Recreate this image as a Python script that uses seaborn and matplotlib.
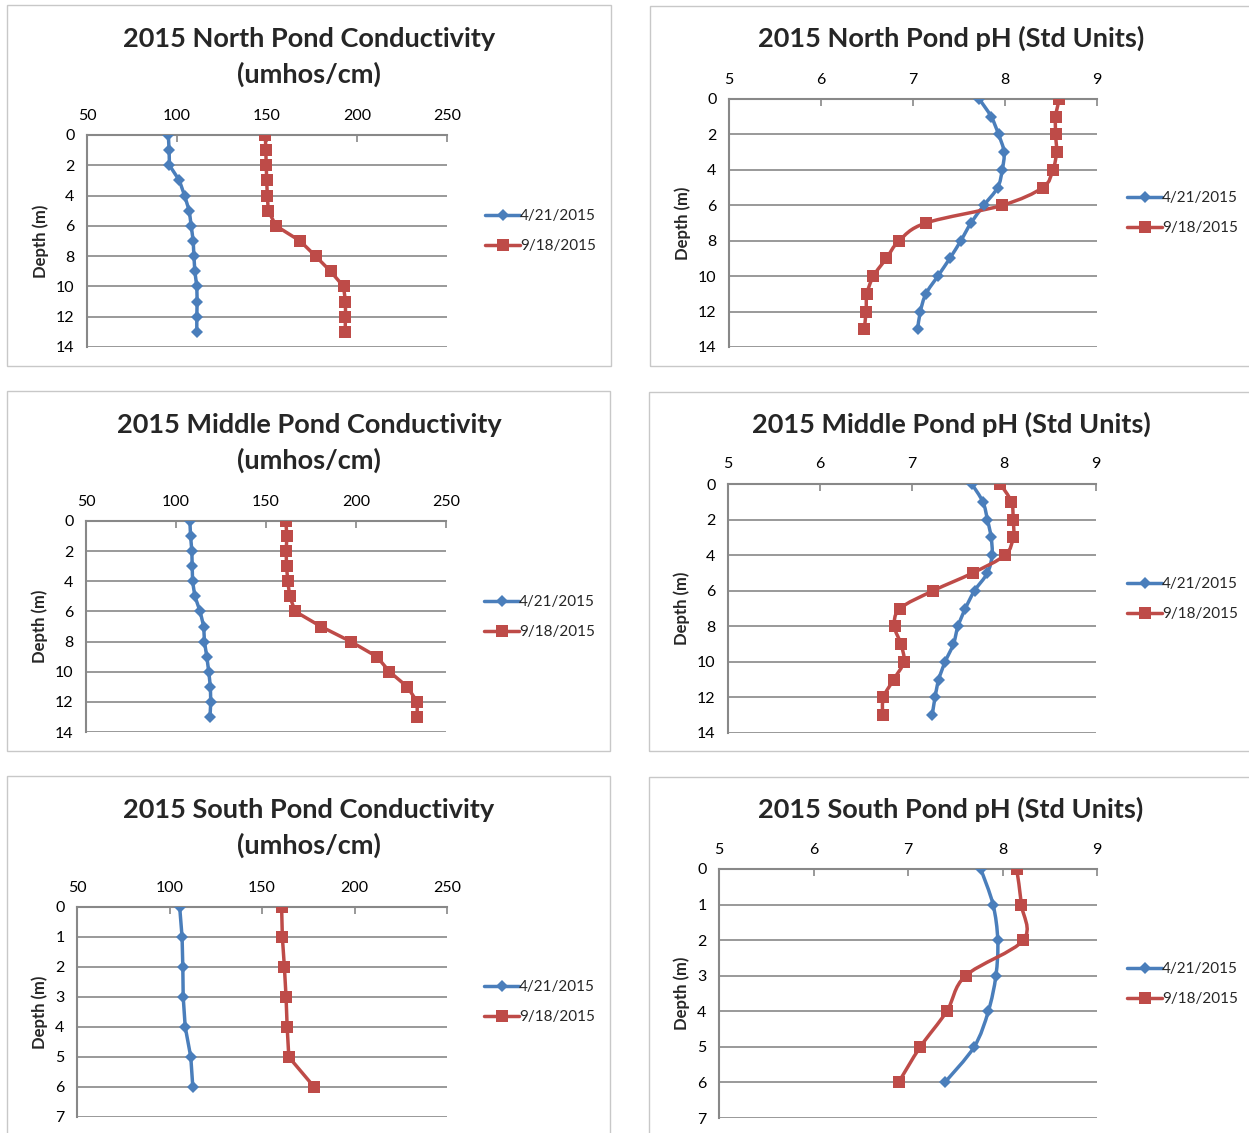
import matplotlib
matplotlib.use("Agg")
import matplotlib.pyplot as plt
from matplotlib.path import Path
from matplotlib.patches import PathPatch, Rectangle
from matplotlib.lines import Line2D
import seaborn as sns

# ---- data -------------------------------------------------------------
dates = ["4/21/2015", "9/18/2015"]
depth_deep = list(range(14))   # North and Middle pond profiles, m
depth_south = list(range(7))   # South pond profile, m

north_cond_apr = [95.2, 95.6, 95.8, 101.3, 104.2, 106.8, 107.9, 109.0, 109.4, 109.9, 111.0, 111.2, 111.0, 111.0]
north_cond_sep = [149.1, 149.3, 149.6, 149.8, 150.2, 150.7, 155.0, 168.4, 177.0, 185.3, 192.5, 193.6, 193.6, 193.4]
north_ph_apr = [7.72, 7.85, 7.93, 7.99, 7.97, 7.92, 7.77, 7.63, 7.52, 7.40, 7.27, 7.14, 7.08, 7.05]
north_ph_sep = [8.59, 8.55, 8.55, 8.56, 8.52, 8.41, 7.97, 7.14, 6.85, 6.71, 6.57, 6.50, 6.49, 6.47]

middle_cond_apr = [107.7, 108.1, 108.8, 109.0, 109.2, 110.5, 113.4, 115.4, 115.8, 117.1, 118.2, 119.1, 119.3, 118.9]
middle_cond_sep = [161.0, 161.6, 161.2, 161.4, 162.1, 163.2, 166.2, 180.5, 197.1, 211.6, 218.6, 228.5, 234.0, 234.0]
middle_ph_apr = [7.65, 7.77, 7.82, 7.86, 7.87, 7.82, 7.68, 7.58, 7.50, 7.45, 7.36, 7.29, 7.25, 7.22]
middle_ph_sep = [7.96, 8.08, 8.10, 8.10, 8.01, 7.66, 7.23, 6.87, 6.81, 6.88, 6.91, 6.80, 6.69, 6.68]

south_cond_apr = [105.5, 106.8, 107.2, 107.4, 108.5, 111.5, 112.6]
south_cond_sep = [160.6, 161.0, 162.1, 163.0, 163.6, 164.5, 178.2]
south_ph_apr = [7.77, 7.90, 7.95, 7.93, 7.85, 7.70, 7.39]
south_ph_sep = [8.15, 8.20, 8.22, 7.61, 7.41, 7.13, 6.90]

cond_ticks = [50, 100, 150, 200, 250]
ph_ticks = [5, 6, 7, 8, 9]
deep_ticks = [0, 2, 4, 6, 8, 10, 12, 14]
south_ticks = [0, 1, 2, 3, 4, 5, 6, 7]

# ---- style ------------------------------------------------------------
sns.set_style("white")
plt.rcParams["font.family"] = ["Lato", "DejaVu Sans"]

W, H = 1249, 1133
BLUE = "#4A7EBB"
RED = "#BE4B48"
GRID = "#888888"
BORDER = "#C8C8C8"

fig = plt.figure(figsize=(W / 100, H / 100), dpi=100)


def fx(px):
    return px / W


def fy(py):
    return 1 - py / H


def smooth_path(xs, ys):
    """Bezier path through the points, Excel-style smoothed line."""
    pts = list(zip(xs, ys))
    n = len(pts)
    verts = [pts[0]]
    codes = [Path.MOVETO]
    for i in range(n - 1):
        p0 = pts[i - 1] if i > 0 else pts[i]
        p1 = pts[i]
        p2 = pts[i + 1]
        p3 = pts[i + 2] if i + 2 < n else pts[i + 1]
        c1 = (p1[0] + (p2[0] - p0[0]) / 6, p1[1] + (p2[1] - p0[1]) / 6)
        c2 = (p2[0] - (p3[0] - p1[0]) / 6, p2[1] - (p3[1] - p1[1]) / 6)
        verts += [c1, c2, p2]
        codes += [Path.CURVE4] * 3
    return Path(verts, codes)


panels = [
    dict(title="2015 North Pond Conductivity\n(umhos/cm)", box=(7, 5, 611, 366), area=(87, 135, 447, 347),
         tcx=309, tcy=57, series=(north_cond_apr, north_cond_sep), depth=depth_deep, xticks=cond_ticks,
         yticks=deep_ticks, smooth=False, leg=(485, 231)),
    dict(title="2015 North Pond pH (Std Units)", box=(650, 6, 1260, 366), area=(729, 99, 1097, 347),
         tcx=951, tcy=38, series=(north_ph_apr, north_ph_sep), depth=depth_deep, xticks=ph_ticks,
         yticks=deep_ticks, smooth=True, leg=(1127, 213)),
    dict(title="2015 Middle Pond Conductivity\n(umhos/cm)", box=(7, 391, 610, 751), area=(86, 521, 446, 732),
         tcx=309, tcy=443, series=(middle_cond_apr, middle_cond_sep), depth=depth_deep, xticks=cond_ticks,
         yticks=deep_ticks, smooth=False, leg=(484, 617)),
    dict(title="2015 Middle Pond pH (Std Units)", box=(649, 392, 1260, 751), area=(728, 484, 1096, 733),
         tcx=951, tcy=424, series=(middle_ph_apr, middle_ph_sep), depth=depth_deep, xticks=ph_ticks,
         yticks=deep_ticks, smooth=True, leg=(1127, 599)),
    dict(title="2015 South Pond Conductivity\n(umhos/cm)", box=(7, 776, 610, 1145), area=(77, 907, 447, 1117),
         tcx=309, tcy=828, series=(south_cond_apr, south_cond_sep), depth=depth_south, xticks=cond_ticks,
         yticks=south_ticks, smooth=False, leg=(484, 1002)),
    dict(title="2015 South Pond pH (Std Units)", box=(649, 777, 1260, 1145), area=(719, 869, 1097, 1118),
         tcx=951, tcy=809, series=(south_ph_apr, south_ph_sep), depth=depth_south, xticks=ph_ticks,
         yticks=south_ticks, smooth=True, leg=(1127, 984)),
]

styles = [
    dict(color=BLUE, marker="D", ms=6.3),
    dict(color=RED, marker="s", ms=8.3),
]
LW = 2.5

for p in panels:
    bx0, by0, bx1, by1 = p["box"]
    fig.add_artist(Rectangle((fx(bx0), fy(by1)), fx(bx1 - bx0), (by1 - by0) / H,
                             transform=fig.transFigure, fill=False, edgecolor=BORDER, lw=1.0))

    ax0, ay0, ax1, ay1 = p["area"]
    ax = fig.add_axes([fx(ax0), fy(ay1), fx(ax1 - ax0), (ay1 - ay0) / H])

    for vals, st, lab in zip(p["series"], styles, dates):
        if p["smooth"]:
            ax.add_patch(PathPatch(smooth_path(vals, p["depth"]), fill=False,
                                   edgecolor=st["color"], lw=LW, zorder=3))
            sns.lineplot(x=vals, y=p["depth"], orient="y", sort=False, estimator=None, ax=ax,
                         color=st["color"], linestyle="none", marker=st["marker"],
                         markersize=st["ms"], markeredgewidth=0, zorder=4)
        else:
            sns.lineplot(x=vals, y=p["depth"], orient="y", sort=False, estimator=None, ax=ax,
                         color=st["color"], lw=LW, marker=st["marker"],
                         markersize=st["ms"], markeredgewidth=0, zorder=4)

    xt = p["xticks"]
    yt = p["yticks"]
    ax.set_xlim(xt[0], xt[-1])
    ax.set_ylim(yt[-1], yt[0])
    ax.set_xticks(xt)
    ax.set_yticks(yt)
    ax.xaxis.tick_top()
    ax.tick_params(axis="x", direction="in", length=5, width=1.2, color=GRID, pad=9,
                   labelsize=11.5, labelcolor="black")
    ax.tick_params(axis="y", direction="out", length=5, width=1.2, color=GRID, pad=4,
                   labelsize=11.5, labelcolor="black")
    ax.grid(axis="y", color=GRID, lw=1.2)
    ax.grid(axis="x", visible=False)
    ax.set_axisbelow(True)
    for side in ("right", "bottom"):
        ax.spines[side].set_visible(False)
    for side in ("left", "top"):
        ax.spines[side].set_color(GRID)
        ax.spines[side].set_linewidth(1.5)
    ax.set_xlabel("")
    ax.set_ylabel("Depth (m)", fontsize=12, fontweight="bold", labelpad=5)

    fig.text(fx(p["tcx"]), fy(p["tcy"]), p["title"], ha="center", va="center",
             fontsize=19.5, fontweight="bold", linespacing=1.55)

    handles = [Line2D([], [], color=st["color"], lw=LW, marker=st["marker"],
                      markersize=st["ms"], markeredgewidth=0) for st in styles]
    lx, ly = p["leg"]
    fig.legend(handles, dates, loc="center left", bbox_to_anchor=(fx(lx), fy(ly)),
               frameon=False, fontsize=11, handlelength=2.3, handletextpad=0.0,
               borderpad=0, borderaxespad=0, labelspacing=1.05)

fig.savefig("out.png", dpi=100)
